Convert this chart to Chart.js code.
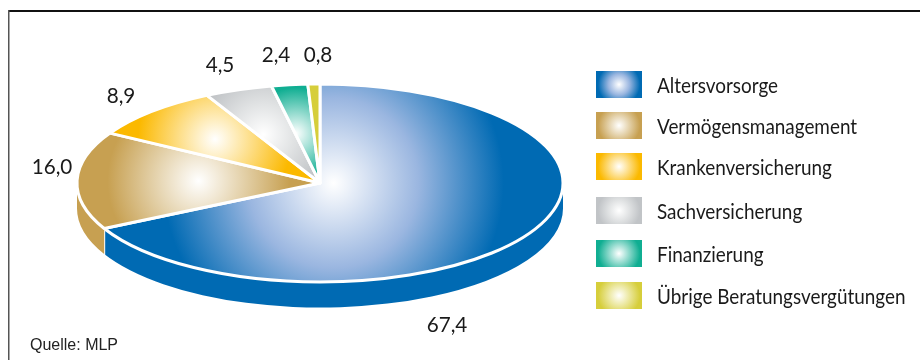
<!DOCTYPE html>
<html lang="de">
<head>
<meta charset="utf-8">
<title>Umsatzverteilung</title>
<style>
  html, body { margin: 0; padding: 0; background: #fff; }
  canvas { display: block; }
</style>
<script src="https://cdn.jsdelivr.net/npm/chart.js@4"></script>
</head>
<body>
<canvas id="chart" width="920" height="360"></canvas>
<script>
// Revenue shares in percent
const categories = ['Altersvorsorge', 'Vermögensmanagement', 'Krankenversicherung', 'Sachversicherung', 'Finanzierung', 'Übrige Beratungsvergütungen'];
const shares = [67.4, 16.0, 8.9, 4.5, 2.4, 0.8];
const source = 'Quelle: MLP';

// Appearance
const colors = ['#006ab3', '#c7a051', '#fbb900', '#c1c4c7', '#10ae92', '#d6ce3b'];
// Halfway tints of each glow, as printed process colours blend towards white
const tints = ['#9ab6e0', '#e3d0a8', '#fddc80', '#e0e2e3', '#88d7c9', '#ebe79d'];
const glowRadii = [170, 91, 77, 63, 46, 1];
const centerX = 320, centerY = 183;
const radiusX = 243, radiusY = 99, depth = 25.5;
const gapWidth = 3;
const valueAnchors = [[447, 332], [52, 174], [121, 103], [220, 72], [276, 62], [318, 62]];
const legendRows = [71, 112, 153, 197, 240, 282];
const legendBox = { x: 596, width: 46, height: 27, glow: 21 };
const legendFont = '21px Lato, sans-serif';
const legendSqueeze = 0.9;
const valueFont = '22px Lato, sans-serif';
const valueSqueeze = 0.94;

// Screen-space bounding box of an elliptical sector
function sectorBounds(a0, a1) {
  const xs = [centerX], ys = [centerY];
  const add = a => {
    xs.push(centerX + radiusX * Math.cos(a));
    ys.push(centerY + radiusY * Math.sin(a));
  };
  add(a0); add(a1);
  for (let q = -4; q <= 8; q++) {
    const a = q * Math.PI / 2;
    if (a > a0 && a < a1) add(a);
  }
  return {
    cx: (Math.min(...xs) + Math.max(...xs)) / 2,
    cy: (Math.min(...ys) + Math.max(...ys)) / 2
  };
}

function glowFill(ctx, x, y, r, index) {
  const g = ctx.createRadialGradient(x, y, 0, x, y, r);
  g.addColorStop(0, '#ffffff');
  g.addColorStop(0.5, tints[index]);
  g.addColorStop(1, colors[index]);
  return g;
}

function squeezedText(ctx, text, x, y, factor) {
  ctx.fillText(text, x, y, ctx.measureText(text).width * factor);
}

// Arc element that renders as a tilted disc segment with a visible rim
class TiltedArc extends Chart.ArcElement {
  static id = 'tiltedArc';
  static defaults = {};

  draw(ctx) {
    const { x, y, startAngle, endAngle, outerRadius } =
      this.getProps(['x', 'y', 'startAngle', 'endAngle', 'outerRadius']);
    const stretch = radiusX / outerRadius;
    const index = this.$context.index;
    ctx.save();

    // Rim: only the part of the segment that faces the viewer
    const r0 = Math.max(startAngle, 0), r1 = Math.min(endAngle, Math.PI);
    if (r1 > r0) {
      ctx.beginPath();
      ctx.ellipse(x, y, radiusX, outerRadius, 0, r0, r1);
      ctx.ellipse(x, y + depth, radiusX, outerRadius, 0, r1, r0, true);
      ctx.closePath();
      ctx.fillStyle = this.options.backgroundColor;
      ctx.fill();
      if (r1 < Math.PI) {
        const ex = x + radiusX * Math.cos(r1), ey = y + outerRadius * Math.sin(r1);
        ctx.beginPath();
        ctx.moveTo(ex, ey);
        ctx.lineTo(ex, ey + depth + 1);
        ctx.strokeStyle = '#fff';
        ctx.lineWidth = 2;
        ctx.stroke();
      }
    }

    // Top face
    ctx.save();
    ctx.translate(x, y);
    ctx.scale(stretch, 1);
    ctx.beginPath();
    ctx.moveTo(0, 0);
    ctx.arc(0, 0, outerRadius, startAngle, endAngle);
    ctx.closePath();
    ctx.restore();
    const b = sectorBounds(startAngle, endAngle);
    ctx.fillStyle = glowFill(ctx, b.cx, b.cy, glowRadii[index], index);
    ctx.fill();
    ctx.strokeStyle = '#fff';
    ctx.lineWidth = gapWidth;
    ctx.lineJoin = 'round';
    ctx.stroke();
    ctx.restore();
  }
}

class TiltedPie extends Chart.PieController {
  static id = 'tiltedPie';
  static defaults = { dataElementType: 'tiltedArc' };
}

Chart.register(TiltedArc, TiltedPie);

// Frame, value labels, legend and source line
const annotations = {
  id: 'annotations',
  afterDraw(chart) {
    const ctx = chart.ctx;
    ctx.save();

    ctx.fillStyle = '#111';
    ctx.fillRect(8, 10, 912, 2);
    ctx.fillStyle = '#555';
    ctx.fillRect(8, 10, 1.5, 350);

    ctx.fillStyle = '#1a1a1a';
    ctx.textBaseline = 'alphabetic';

    ctx.font = valueFont;
    ctx.textAlign = 'center';
    shares.forEach((v, i) => {
      squeezedText(ctx, v.toFixed(1).replace('.', ','), valueAnchors[i][0], valueAnchors[i][1], valueSqueeze);
    });

    ctx.textAlign = 'left';
    categories.forEach((name, i) => {
      const top = legendRows[i];
      const mx = legendBox.x + legendBox.width / 2, my = top + legendBox.height / 2;
      ctx.fillStyle = glowFill(ctx, mx, my, legendBox.glow, i);
      ctx.fillRect(legendBox.x, top, legendBox.width, legendBox.height);
      ctx.fillStyle = '#1a1a1a';
      ctx.font = legendFont;
      squeezedText(ctx, name, 657, top + 22, legendSqueeze);
    });

    ctx.font = '16px "Liberation Sans", Arial, sans-serif';
    ctx.fillStyle = '#222';
    ctx.fillText(source, 30, 350);
    ctx.restore();
  }
};

new Chart(document.getElementById('chart'), {
  type: 'tiltedPie',
  data: {
    labels: categories,
    datasets: [{ data: shares, backgroundColor: colors, borderWidth: 0 }]
  },
  options: {
    responsive: false,
    animation: false,
    layout: {
      padding: {
        left: centerX - radiusY,
        right: 920 - centerX - radiusY,
        top: centerY - radiusY,
        bottom: 360 - centerY - radiusY
      }
    },
    plugins: { legend: { display: false }, tooltip: { enabled: false } }
  },
  plugins: [annotations]
});
</script>
</body>
</html>
